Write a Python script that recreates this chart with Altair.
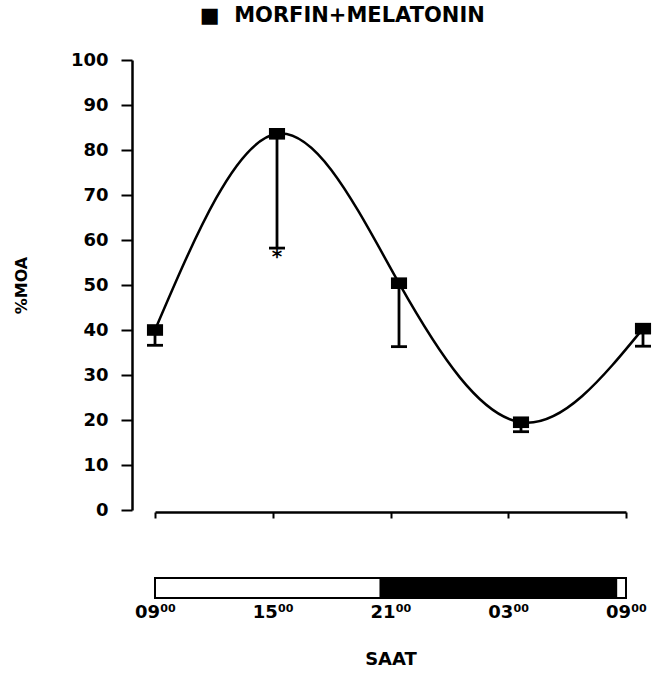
import json
import altair as alt
import pandas as pd

# ---- data ----
hours = [0, 6, 12, 18, 24]
tick_labels = ["09⁰⁰", "15⁰⁰", "21⁰⁰", "03⁰⁰", "09⁰⁰"]
moa = [40.0, 83.6, 50.4, 19.5, 40.3]
lower = [36.6, 58.2, 36.3, 17.4, 36.4]
star_hour = [6]
star_y = [56.0]
seg_start = [0, 11.5, 23.5]
seg_end = [11.5, 23.5, 24]
seg_fill = ["white", "black", "white"]

df = pd.DataFrame({"hour": hours, "moa": moa, "lower": lower})
stars = pd.DataFrame({"hour": star_hour, "y": star_y})
segs = pd.DataFrame({"s": seg_start, "e": seg_end, "f": seg_fill})

FONT = "DejaVu Sans"

xp = alt.X("hour:Q", scale=alt.Scale(domain=[0, 24], range=[0, 488]), axis=None)
yax = alt.Axis(values=list(range(0, 101, 10)), tickSize=11, tickWidth=2,
               domainWidth=2.5, domainColor="black", tickColor="black",
               labelFont=FONT, labelFontWeight="bold", labelFontSize=18,
               labelColor="black", labelPadding=13, offset=23, grid=False,
               title="%MOA", titleFont=FONT, titleFontSize=16,
               titleFontWeight="bold", titleColor="black", titlePadding=41)
ysc = alt.Scale(domain=[0, 100])

base = alt.Chart(df)
line = base.mark_line(interpolate="natural", color="black", strokeWidth=2.5).encode(
    x=xp, y=alt.Y("moa:Q", scale=ysc, axis=yax))
err = base.mark_rule(color="black", strokeWidth=2.8).encode(
    x=xp, y=alt.Y("moa:Q", scale=ysc, axis=yax), y2="lower:Q")
cap = base.mark_tick(color="black", thickness=2.8, size=16, orient="horizontal",
                     opacity=1).encode(
    x=xp, y=alt.Y("lower:Q", scale=ysc, axis=yax))
pts = base.mark_point(shape="M-1,-0.72H1V0.72H-1Z", filled=True, color="black",
                      size=260, opacity=1).encode(
    x=xp, y=alt.Y("moa:Q", scale=ysc, axis=yax))
star = alt.Chart(stars).mark_text(text="*", font=FONT, fontWeight="bold", fontSize=20,
                                  color="black", baseline="middle", dy=-1).encode(
    x=xp, y=alt.Y("y:Q", scale=ysc, axis=yax))

xaxis_layer = alt.Chart(df).mark_rule(opacity=0).encode(
    x=alt.X("hour:Q", scale=alt.Scale(domain=[0, 24]),
            axis=alt.Axis(orient="bottom", values=hours, labels=False, tickSize=6,
                          tickWidth=2, domainWidth=2.5, domainColor="black",
                          tickColor="black", offset=2, title=None, grid=False)))

top = alt.layer(xaxis_layer, line, err, cap, pts, star).resolve_scale(
    x="independent").properties(width=471, height=450)

label_expr = json.dumps(tick_labels, ensure_ascii=False) + "[round(datum.value / 6)]"
bar = alt.Chart(segs).mark_rect(stroke="black", strokeWidth=2).encode(
    x=alt.X("s:Q", scale=alt.Scale(domain=[0, 24]),
            axis=alt.Axis(values=hours, labelExpr=label_expr, domain=False,
                          ticks=False, labelPadding=5, labelFont=FONT,
                          labelFontWeight="bold", labelFontSize=18,
                          labelColor="black", labelOverlap=False, labelFlush=False,
                          grid=False,
                          title="SAAT", titleFont=FONT, titleFontSize=18,
                          titleFontWeight="bold", titleColor="black",
                          titlePadding=29)),
    x2="e:Q",
    fill=alt.Fill("f:N", scale=None),
).properties(width=471, height=20)

chart = alt.vconcat(top, bar, spacing=58).properties(
    title=alt.TitleParams(text="■\u00a0\u00a0MORFIN+MELATONIN", font=FONT,
                          fontWeight="bold", fontSize=21, color="black",
                          anchor="middle", dx=10, offset=25),
    padding={"left": 13, "top": 5, "right": 5, "bottom": 5},
    background="white",
).configure_view(stroke=None)

chart.save("out.html", embed_options={"renderer": "svg", "actions": False})
